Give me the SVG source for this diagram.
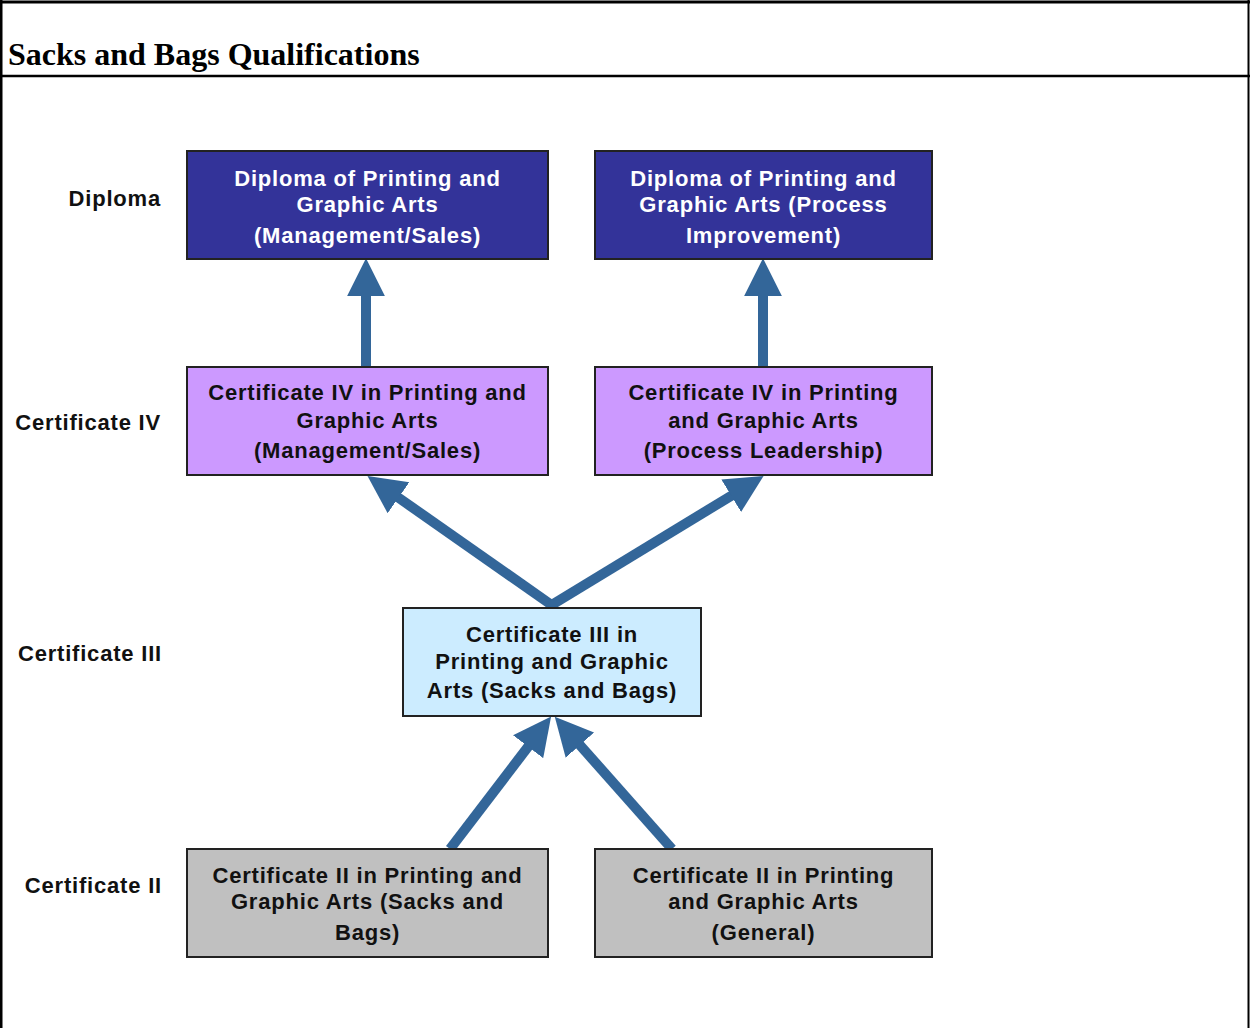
<svg xmlns="http://www.w3.org/2000/svg" width="1250" height="1028" viewBox="0 0 1250 1028">
<style>
.title{font-family:"Liberation Serif","Times New Roman",serif;font-weight:bold;font-size:32px;fill:#000}
.lbl{font-family:"Liberation Sans",Arial,sans-serif;font-weight:bold;font-size:22px;letter-spacing:0.8px;fill:#111;text-anchor:end}
.t{font-family:"Liberation Sans",Arial,sans-serif;font-weight:bold;font-size:22px;letter-spacing:0.8px;text-anchor:middle;fill:#111}
.tw{fill:#fff}
.box{stroke:#222;stroke-width:2}
.dip{fill:#333399}
.c4{fill:#cc99ff}
.c3{fill:#ccecff}
.c2{fill:#c0c0c0}
.arr{stroke:#336699;stroke-width:10;fill:none;marker-end:url(#ah)}
</style>
<defs>
<marker id="ah" markerUnits="userSpaceOnUse" markerWidth="40" markerHeight="40" viewBox="-2 -19 38 38" refX="0" refY="0" orient="auto">
<path d="M-2,-18 L34,0 L-2,18 z" fill="#336699"/>
</marker>
</defs>
<rect x="0" y="0" width="1250" height="1028" fill="#fff"/>
<g id="frame" fill="none" stroke="#000">
<line x1="1" y1="0" x2="1" y2="1028" stroke-width="3"/>
<line x1="0" y1="2" x2="1250" y2="2" stroke-width="3"/>
<line x1="1248.5" y1="0" x2="1248.5" y2="1028" stroke-width="2"/>
<line x1="0" y1="76" x2="1250" y2="76" stroke-width="2.5"/>
</g>
<text class="title" x="8" y="65">Sacks and Bags Qualifications</text>
<g id="row-labels">
<text class="lbl" x="161" y="206">Diploma</text>
<text class="lbl" x="161" y="430">Certificate IV</text>
<text class="lbl" x="162" y="661">Certificate III</text>
<text class="lbl" x="162" y="893">Certificate II</text>
</g>
<g id="connectors">
<line class="arr" x1="366" y1="367" x2="366" y2="294"/>
<line class="arr" x1="763" y1="367" x2="763" y2="294"/>
<line class="arr" x1="553" y1="606" x2="396.8" y2="496.5"/>
<line class="arr" x1="550" y1="606" x2="733" y2="494.7"/>
<line class="arr" x1="450" y1="849" x2="529.4" y2="745"/>
<line class="arr" x1="672" y1="849" x2="578.5" y2="743.5"/>
</g>
<g id="dip-mgmt">
<rect class="box dip" x="187" y="151" width="361" height="108"/>
<text class="t tw" x="367.5" y="186">Diploma of Printing and</text>
<text class="t tw" x="367.5" y="212">Graphic Arts</text>
<text class="t tw" x="367.5" y="243">(Management/Sales)</text>
</g>
<g id="dip-process">
<rect class="box dip" x="595" y="151" width="337" height="108"/>
<text class="t tw" x="763.5" y="186">Diploma of Printing and</text>
<text class="t tw" x="763.5" y="212">Graphic Arts (Process</text>
<text class="t tw" x="763.5" y="243">Improvement)</text>
</g>
<g id="c4-mgmt">
<rect class="box c4" x="187" y="367" width="361" height="108"/>
<text class="t" x="367.5" y="400">Certificate IV in Printing and</text>
<text class="t" x="367.5" y="428">Graphic Arts</text>
<text class="t" x="367.5" y="458">(Management/Sales)</text>
</g>
<g id="c4-process">
<rect class="box c4" x="595" y="367" width="337" height="108"/>
<text class="t" x="763.5" y="400">Certificate IV in Printing</text>
<text class="t" x="763.5" y="428">and Graphic Arts</text>
<text class="t" x="763.5" y="458">(Process Leadership)</text>
</g>
<g id="c3-sacks">
<rect class="box c3" x="403" y="608" width="298" height="108"/>
<text class="t" x="552" y="642">Certificate III in</text>
<text class="t" x="552" y="669">Printing and Graphic</text>
<text class="t" x="552" y="698">Arts (Sacks and Bags)</text>
</g>
<g id="c2-sacks">
<rect class="box c2" x="187" y="849" width="361" height="108"/>
<text class="t" x="367.5" y="883">Certificate II in Printing and</text>
<text class="t" x="367.5" y="909">Graphic Arts (Sacks and</text>
<text class="t" x="367.5" y="940">Bags)</text>
</g>
<g id="c2-general">
<rect class="box c2" x="595" y="849" width="337" height="108"/>
<text class="t" x="763.5" y="883">Certificate II in Printing</text>
<text class="t" x="763.5" y="909">and Graphic Arts</text>
<text class="t" x="763.5" y="940">(General)</text>
</g>
</svg>
